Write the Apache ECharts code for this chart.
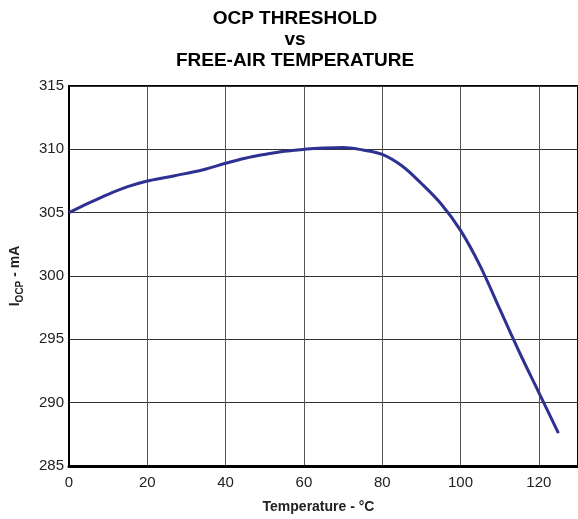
<!DOCTYPE html>
<html>
<head>
<meta charset="utf-8">
<style>
  html, body { margin: 0; padding: 0; background: #fff; }
  #chart { width: 578px; height: 519px; }
</style>
<script src="https://cdn.jsdelivr.net/npm/echarts@6/dist/echarts.min.js"></script>
</head>
<body>
<div id="chart"></div>
<script>
// Free-air temperature (°C)
const temperature = [0, 5, 10, 15, 20, 25, 30, 35, 40, 45, 50, 55, 60, 65, 70, 75, 80, 85, 90, 95, 100, 105, 110, 115, 120, 125];
// OCP threshold current (mA)
const ocpCurrent = [305.0, 305.75, 306.45, 307.05, 307.5, 307.8, 308.1, 308.45, 308.9, 309.3, 309.6, 309.85, 310.0, 310.1, 310.15, 309.95, 309.6, 308.7, 307.3, 305.7, 303.6, 300.8, 297.4, 294.0, 290.8, 287.6];
// Axis ticks
const xTicks = [0, 20, 40, 60, 80, 100, 120];
const yTicks = [285, 290, 295, 300, 305, 310, 315];

const points = temperature.map((t, i) => [t, ocpCurrent[i]]);
const font = 'Liberation Sans, Arial, Helvetica, sans-serif';

const chart = echarts.init(document.getElementById('chart'), null, { renderer: 'canvas' });
chart.setOption({
  animation: false,
  backgroundColor: '#fff',
  title: {
    text: 'OCP THRESHOLD\nvs\nFREE-AIR TEMPERATURE',
    left: 290,
    top: 3,
    textAlign: 'center',
    textStyle: {
      fontFamily: font,
      fontSize: 19,
      fontWeight: 'bold',
      lineHeight: 21,
      color: '#000'
    }
  },
  grid: {
    left: 66,
    top: 86,
    right: 0,
    bottom: 53,
    show: true,
    borderColor: '#000',
    borderWidth: 2,
    containLabel: false
  },
  xAxis: {
    type: 'value',
    min: 0,
    max: 130,
    interval: 20,
    name: 'Temperature - °C',
    nameLocation: 'middle',
    nameGap: 34,
    nameTextStyle: { fontFamily: font, fontSize: 14, fontWeight: 'bold', color: '#222', padding: [0, 10, 0, 0] },
    axisLine: { show: true, onZero: false, lineStyle: { color: '#000', width: 3 } },
    axisTick: { show: false },
    axisLabel: {
      fontFamily: font, fontSize: 15, color: '#222', margin: 9,
      showMaxLabel: false,
      formatter: v => (xTicks.includes(v) ? String(v) : '')
    },
    splitLine: { show: true, lineStyle: { color: '#555', width: 1 } }
  },
  yAxis: {
    type: 'value',
    min: 285,
    max: 315,
    interval: 5,
    name: '{a|I}{b|OCP}{a| - mA}',
    nameLocation: 'middle',
    nameGap: 44,
    nameTextStyle: {
      rich: {
        a: { fontFamily: font, fontSize: 14, fontWeight: 'bold', color: '#222', lineHeight: 20 },
        b: { fontFamily: font, fontSize: 10, fontWeight: 'bold', color: '#222', lineHeight: 9, verticalAlign: 'bottom' }
      }
    },
    axisLine: { show: true, lineStyle: { color: '#000', width: 2 } },
    axisTick: { show: false },
    axisLabel: {
      fontFamily: font, fontSize: 15, color: '#222', margin: 5,
      formatter: v => (yTicks.includes(v) ? String(v) : '')
    },
    splitLine: { show: true, lineStyle: { color: '#333', width: 1 } }
  },
  series: [{
    type: 'line',
    data: points,
    smooth: 0.35,
    showSymbol: false,
    lineStyle: { color: '#2c3192', width: 3 },
    clip: true
  }]
});
</script>
</body>
</html>
